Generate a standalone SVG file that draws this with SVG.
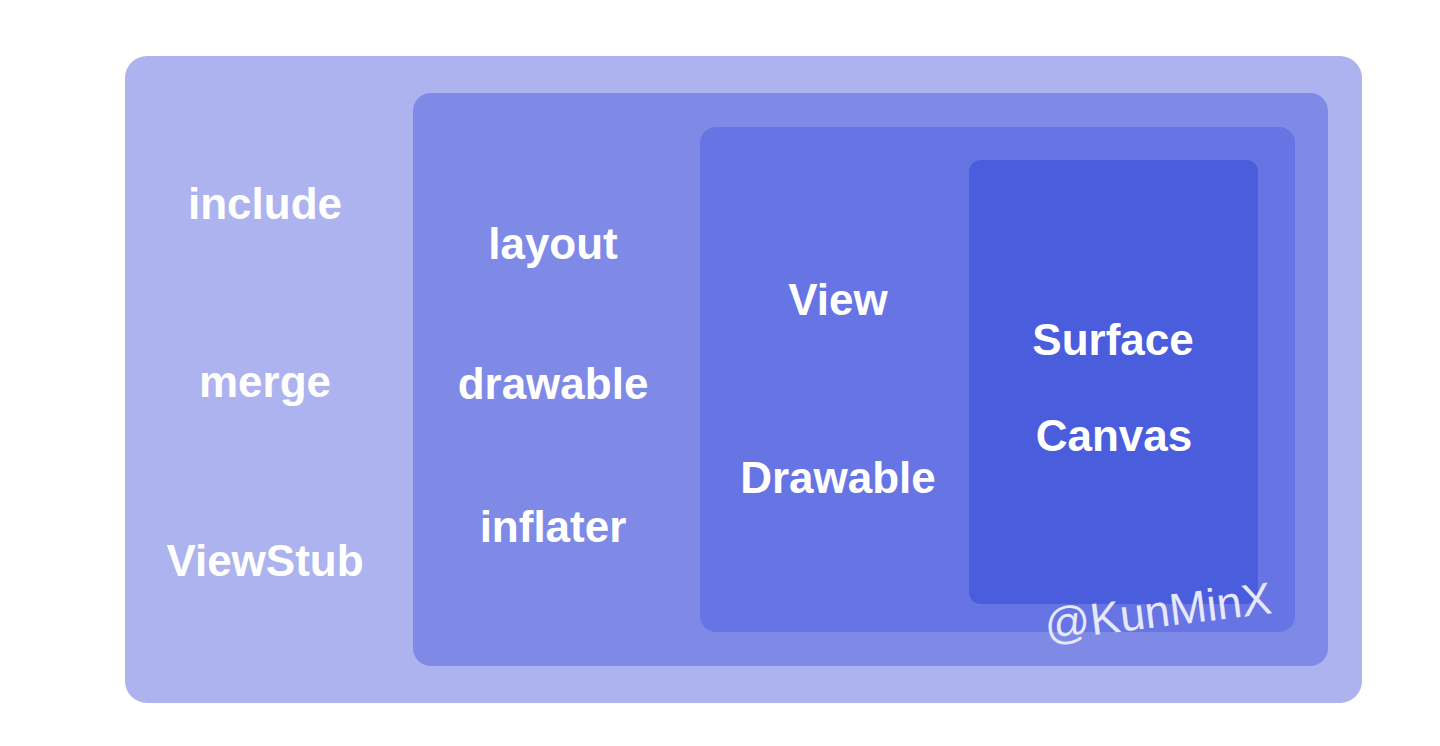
<svg xmlns="http://www.w3.org/2000/svg" width="1440" height="746" viewBox="0 0 1440 746">
<style>
.t{font-family:"Liberation Sans",Arial,sans-serif;font-weight:bold;font-size:44px;fill:#ffffff;text-anchor:middle}
.wm{font-family:"Liberation Sans",Arial,sans-serif;font-size:45px;fill:#e6e8fb;text-anchor:middle}
</style>
<rect width="1440" height="746" fill="#ffffff"/>
<g id="outer">
<rect x="125" y="56" width="1237" height="647" rx="22" fill="#adb3ef"/>
<text class="t" x="265" y="219">include</text>
<text class="t" x="265" y="397">merge</text>
<text class="t" x="265" y="576">ViewStub</text>
</g>
<g id="resources">
<rect x="413" y="93" width="915" height="573" rx="18" fill="#7f8ae7"/>
<text class="t" x="553" y="259">layout</text>
<text class="t" x="553" y="399">drawable</text>
<text class="t" x="553" y="542">inflater</text>
</g>
<g id="view">
<rect x="700" y="127" width="595" height="505" rx="16" fill="#6774e3"/>
<text class="t" x="838" y="315">View</text>
<text class="t" x="838" y="493">Drawable</text>
</g>
<g id="surface">
<rect x="969" y="160" width="289" height="444" rx="12" fill="#4a5ddd"/>
<text class="t" x="1113" y="355">Surface</text>
<text class="t" x="1114" y="451">Canvas</text>
</g>
<g id="connectors"></g>
<text class="wm" x="1158" y="627" transform="rotate(-7 1158 612)">@KunMinX</text>
</svg>
